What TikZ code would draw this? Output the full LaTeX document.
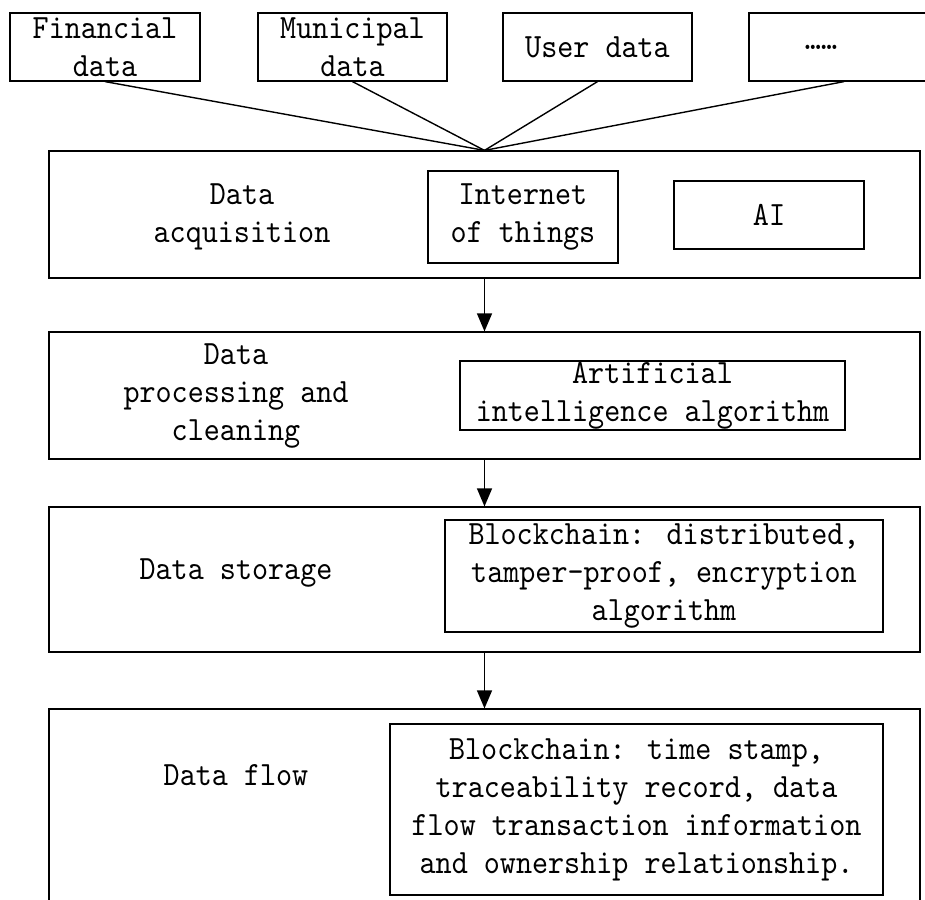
\documentclass[tikz,border=0pt]{standalone}
\usepackage{fontspec}
\usepackage{tikz}
\usetikzlibrary{arrows.meta,positioning}
\newfontfamily\diagfont{lmmono10-regular}[Extension=.otf, FakeStretch=0.9]

\begin{document}
\begin{tikzpicture}[
    x=1pt, y=-1pt,
    font=\diagfont\fontsize{34}{38}\selectfont,
    source/.style={draw, line width=1.2pt, align=center, minimum width=190pt, minimum height=68pt, inner sep=0pt},
    layer/.style={draw, line width=1.2pt, minimum width=871pt, inner sep=0pt},
    tool/.style={draw, line width=1.2pt, align=center, inner sep=0pt},
    caption/.style={align=center, inner sep=0pt},
    link/.style={line width=1.4pt},
    arrow/.style={-{Triangle[length=18pt, width=15pt]}, line width=1.4pt}
]
\useasboundingbox (0,0) rectangle (925,899);
\clip (0,0) rectangle (925,899);

% data sources
\node[source] (fin) at (105,47) {Financial\\data};
\node[source, minimum width=189pt] (muni) at (352.5,47) {Municipal\\data};
\node[source, minimum width=189pt] (user) at (597.5,47) {User data};
\node[source] (more) at (844,47) {\hspace*{-46pt}……};

% stages
\node[layer, minimum height=127pt] (acq) at (484.5,214.5) {};
\node[layer, minimum height=127pt] (proc) at (484.5,395.5) {};
\node[layer, minimum height=145pt] (store) at (484.5,579.5) {};
\node[layer, minimum height=220pt] (flow) at (484.5,819) {};

\node[caption] (acqtxt) at (242,217) {Data\\acquisition};
\node[tool, minimum width=190pt, minimum height=92pt] (iot) at (523,217) {Internet\\of things};
\node[tool, minimum width=190pt, minimum height=68pt] (ai) at (769,215) {AI};

\node[caption] (proctxt) at (236,396) {Data\\processing and\\cleaning};
\node[tool, minimum width=385pt, minimum height=69pt] (alg) at (652.5,395.5) {Artificial\\intelligence algorithm};

\node[caption] (storetxt) at (236,573) {Data storage};
\node[tool, minimum width=438pt, minimum height=112pt] (chain) at (664,576) {Blockchain: distributed,\\tamper-proof, encryption\\algorithm};

\node[caption] (flowtxt) at (236,775) {Data flow};
\node[tool, minimum width=493pt, minimum height=171pt] (trace) at (636.5,809.5) {Blockchain: time stamp,\\traceability record, data\\flow transaction information\\and ownership relationship.};

\foreach \src in {fin,muni,user,more}
    \draw[link] (\src.south) -- (acq.north);

\draw[arrow] (acq) -- (proc);
\draw[arrow] (proc) -- (store);
\draw[arrow] (store) -- (flow);
\end{tikzpicture}
\end{document}
